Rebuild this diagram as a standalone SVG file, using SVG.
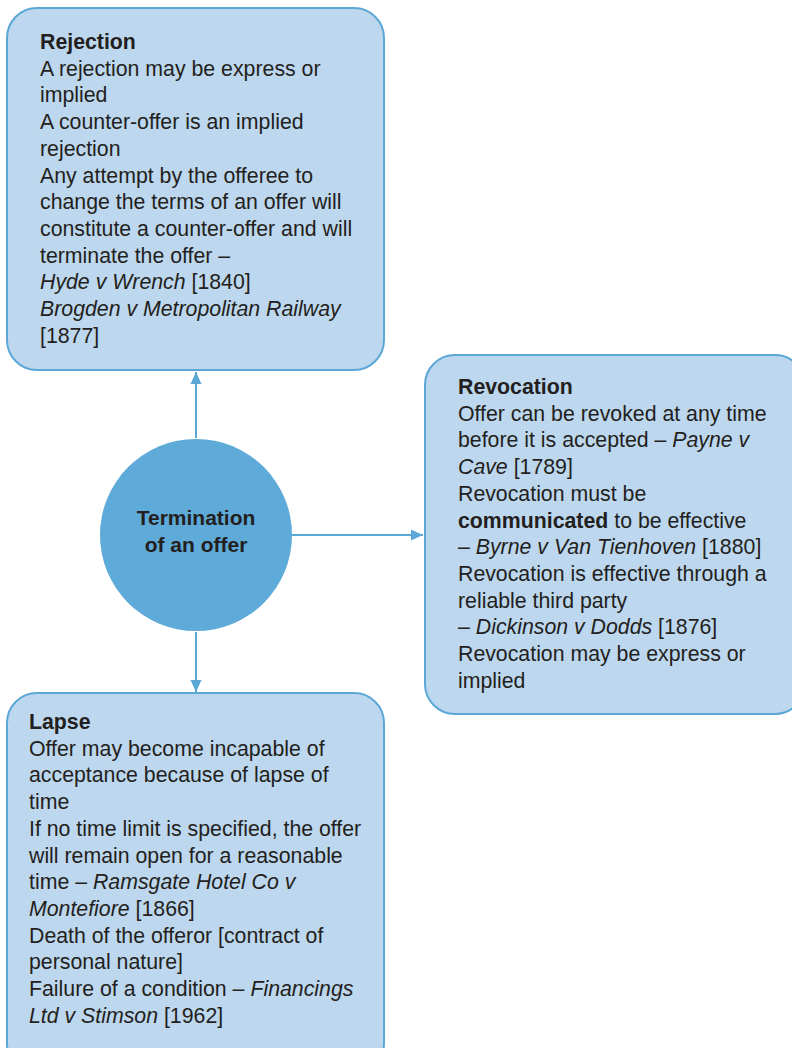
<svg xmlns="http://www.w3.org/2000/svg" width="792" height="1048" viewBox="0 0 792 1048">
  <defs>
    <marker id="arrow" viewBox="0 0 12 12" refX="12" refY="6" markerWidth="12" markerHeight="12" markerUnits="userSpaceOnUse" orient="auto">
      <path d="M0,0.5 L12,6 L0,11.5 z" fill="#5ba7d6"/>
    </marker>
    <style>
      .box { fill: #bdd7ee; stroke: #5ba7d6; stroke-width: 2; }
      .hub { fill: #5eaad8; }
      .link { stroke: #5ba7d6; stroke-width: 2; fill: none; marker-end: url(#arrow); }
      text { font-family: "Liberation Sans", Arial, sans-serif; font-size: 21.3px; fill: #231f20; }
      .t { font-weight: bold; }
      .i { font-style: italic; }
      .hubtext { font-weight: bold; font-size: 21px; text-anchor: middle; }
    </style>
  </defs>

  <!-- connectors from the central circle -->
  <g id="connectors">
    <line class="link" x1="196" y1="438" x2="196" y2="372"/>
    <line class="link" x1="292" y1="535" x2="423" y2="535"/>
    <line class="link" x1="196" y1="632" x2="196" y2="692"/>
  </g>

  <!-- Rejection -->
  <g id="rejection">
    <rect class="box" x="7" y="8" width="377" height="362" rx="30" ry="30"/>
    <text x="40" y="49"><tspan class="t">Rejection</tspan>
      <tspan x="40" dy="26.7">A rejection may be express or</tspan>
      <tspan x="40" dy="26.7">implied</tspan>
      <tspan x="40" dy="26.7">A counter-offer is an implied</tspan>
      <tspan x="40" dy="26.7">rejection</tspan>
      <tspan x="40" dy="26.7">Any attempt by the offeree to</tspan>
      <tspan x="40" dy="26.7">change the terms of an offer will</tspan>
      <tspan x="40" dy="26.7">constitute a counter-offer and will</tspan>
      <tspan x="40" dy="26.7">terminate the offer –</tspan>
      <tspan x="40" dy="26.7"><tspan class="i">Hyde v Wrench</tspan> [1840]</tspan>
      <tspan x="40" dy="26.7" class="i">Brogden v Metropolitan Railway</tspan>
      <tspan x="40" dy="26.7">[1877]</tspan>
    </text>
  </g>

  <!-- Central topic -->
  <g id="termination">
    <circle class="hub" cx="196" cy="535" r="96"/>
    <text class="hubtext" x="196" y="525">Termination</text>
    <text class="hubtext" x="196" y="552">of an offer</text>
  </g>

  <!-- Revocation -->
  <g id="revocation">
    <rect class="box" x="425" y="355" width="380" height="359" rx="30" ry="30"/>
    <text x="458" y="394"><tspan class="t">Revocation</tspan>
      <tspan x="458" dy="26.7">Offer can be revoked at any time</tspan>
      <tspan x="458" dy="26.7">before it is accepted – <tspan class="i">Payne v</tspan></tspan>
      <tspan x="458" dy="26.7"><tspan class="i">Cave</tspan> [1789]</tspan>
      <tspan x="458" dy="26.7">Revocation must be</tspan>
      <tspan x="458" dy="26.7"><tspan class="t">communicated</tspan> to be effective</tspan>
      <tspan x="458" dy="26.7">– <tspan class="i">Byrne v Van Tienhoven</tspan> [1880]</tspan>
      <tspan x="458" dy="26.7">Revocation is effective through a</tspan>
      <tspan x="458" dy="26.7">reliable third party</tspan>
      <tspan x="458" dy="26.7">– <tspan class="i">Dickinson v Dodds</tspan> [1876]</tspan>
      <tspan x="458" dy="26.7">Revocation may be express or</tspan>
      <tspan x="458" dy="26.7">implied</tspan>
    </text>
  </g>

  <!-- Lapse -->
  <g id="lapse">
    <rect class="box" x="7" y="693" width="377" height="380" rx="30" ry="30"/>
    <text x="29" y="729"><tspan class="t">Lapse</tspan>
      <tspan x="29" dy="26.7">Offer may become incapable of</tspan>
      <tspan x="29" dy="26.7">acceptance because of lapse of</tspan>
      <tspan x="29" dy="26.7">time</tspan>
      <tspan x="29" dy="26.7">If no time limit is specified, the offer</tspan>
      <tspan x="29" dy="26.7">will remain open for a reasonable</tspan>
      <tspan x="29" dy="26.7">time – <tspan class="i">Ramsgate Hotel Co v</tspan></tspan>
      <tspan x="29" dy="26.7"><tspan class="i">Montefiore</tspan> [1866]</tspan>
      <tspan x="29" dy="26.7">Death of the offeror [contract of</tspan>
      <tspan x="29" dy="26.7">personal nature]</tspan>
      <tspan x="29" dy="26.7">Failure of a condition – <tspan class="i">Financings</tspan></tspan>
      <tspan x="29" dy="26.7"><tspan class="i">Ltd v Stimson</tspan> [1962]</tspan>
    </text>
  </g>
</svg>
